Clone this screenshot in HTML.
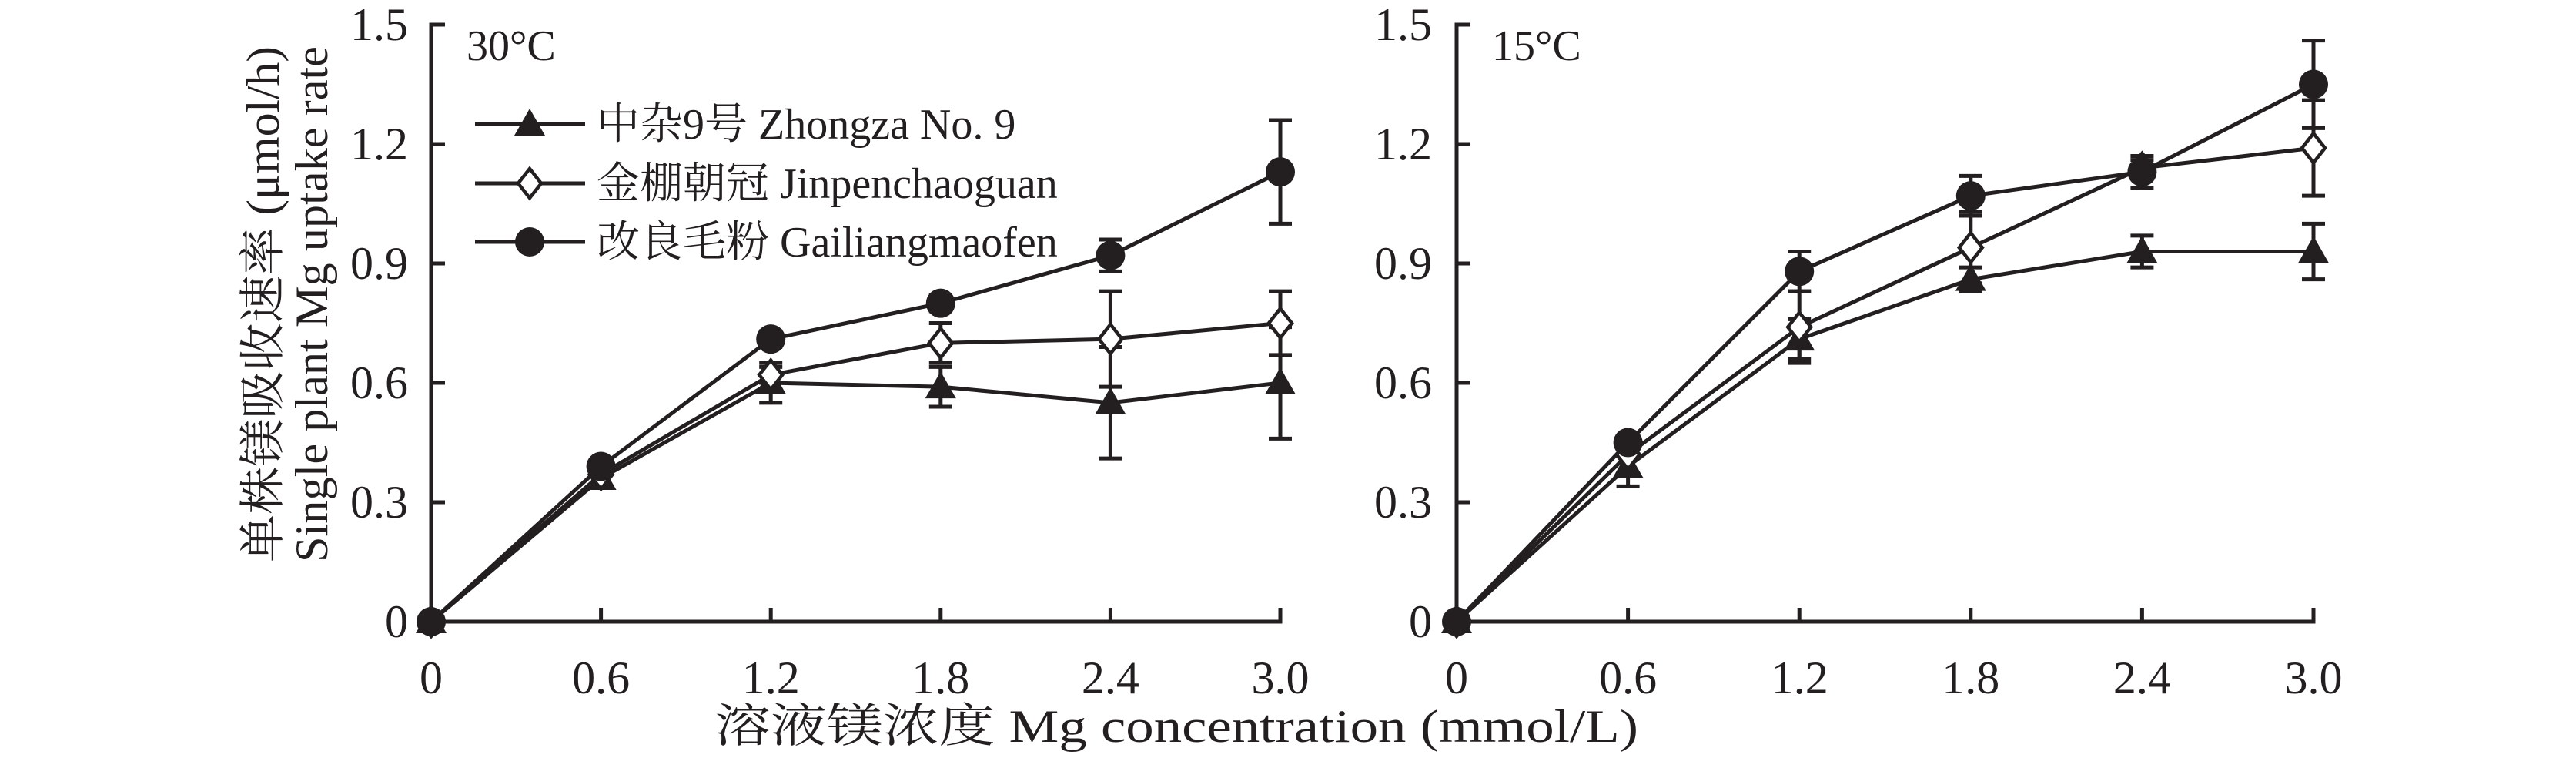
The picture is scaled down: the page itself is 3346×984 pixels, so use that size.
<!DOCTYPE html>
<html><head><meta charset="utf-8"><style>
html,body{margin:0;padding:0;background:#fff;}
svg{display:block;}
text{font-family:"Liberation Serif","Noto Serif CJK SC",serif;fill:#231f20;}
</style></head><body>
<svg id="chart" width="3346" height="984" viewBox="0 0 3346 984" xmlns="http://www.w3.org/2000/svg">
<g id="root"></g>
</svg>
<script>
const categories = [0, 0.6, 1.2, 1.8, 2.4, 3.0];
const xTickLabels = ["0", "0.6", "1.2", "1.8", "2.4", "3.0"];
const yTicks = [0, 0.3, 0.6, 0.9, 1.2, 1.5];
const yTickLabels = ["0", "0.3", "0.6", "0.9", "1.2", "1.5"];
const seriesNames = ["中杂9号 Zhongza No. 9", "金棚朝冠 Jinpenchaoguan", "改良毛粉 Gailiangmaofen"];
const seriesMarkers = ["triangle", "diamond", "circle"];
const zhongza30 = [0, 0.36, 0.60, 0.59, 0.55, 0.60];
const zhongza30Err = [0, 0.01, 0.05, 0.05, 0.14, 0.14];
const jinpen30 = [0, 0.37, 0.62, 0.70, 0.71, 0.75];
const jinpen30Err = [0, 0.01, 0.02, 0.05, 0.12, 0.08];
const gailiang30 = [0, 0.39, 0.71, 0.80, 0.92, 1.13];
const gailiang30Err = [0, 0.01, 0.02, 0.02, 0.04, 0.13];
const zhongza15 = [0, 0.39, 0.71, 0.86, 0.93, 0.93];
const zhongza15Err = [0, 0.05, 0.05, 0.03, 0.04, 0.07];
const jinpen15 = [0, 0.42, 0.74, 0.94, 1.14, 1.19];
const jinpen15Err = [0, 0.01, 0.09, 0.09, 0.02, 0.12];
const gailiang15 = [0, 0.45, 0.88, 1.07, 1.13, 1.35];
const gailiang15Err = [0, 0.01, 0.05, 0.05, 0.04, 0.11];

const NS = "http://www.w3.org/2000/svg";
const root = document.getElementById("root");
function mk(tag, attrs, parent, txt) {
  const e = document.createElementNS(NS, tag);
  for (const k in attrs) e.setAttribute(k, attrs[k]);
  if (txt !== undefined) e.textContent = txt;
  (parent || root).appendChild(e);
  return e;
}
const Y0 = 807, Y15 = 32;
function yScale(v) { return Y0 - (v / 1.5) * (Y0 - Y15); }
function drawMarker(g, type, x, y) {
  let m;
  if (type === "triangle") {
    m = mk("polygon", {points: `${x},${y-20} ${x-20},${y+15} ${x+20},${y+15}`, fill: "#231f20"}, g);
  } else if (type === "diamond") {
    m = mk("polygon", {points: `${x},${y-19} ${x+15},${y} ${x},${y+19} ${x-15},${y}`, fill: "#fff", stroke: "#231f20", "stroke-width": 4.5}, g);
  } else {
    m = mk("ellipse", {cx: x, cy: y, rx: 19, ry: 19, fill: "#231f20"}, g);
  }
  return m;
}
function panel(name, axisX, step, labelRight, tempLabel, series) {
  const xScale = v => axisX + (v / 0.6) * step;
  const g = mk("g", {});
  
  
  const ax = mk("path", {d: `M${axisX+18},${Y15} H${axisX} V${Y0} H${xScale(3.0)} V${Y0-18}`, fill: "none", stroke: "#231f20", "stroke-width": 5}, g);
  
  
  yTicks.forEach((t, i) => {
    const y = yScale(t);
    if (i > 0 && i < yTicks.length - 1) mk("line", {x1: axisX, x2: axisX + 18, y1: y, y2: y, stroke: "#231f20", "stroke-width": 5}, g);
    const lb = mk("text", {x: labelRight, y: y + 20, "font-size": 60, "text-anchor": "end"}, g, yTickLabels[i]);
    
    
  });
  categories.forEach((c, i) => {
    const x = xScale(c);
    if (i > 0 && i < categories.length - 1) mk("line", {x1: x, x2: x, y1: Y0, y2: Y0 - 18, stroke: "#231f20", "stroke-width": 5}, g);
    const lb = mk("text", {x: x, y: 900, "font-size": 60, "text-anchor": "middle"}, g, xTickLabels[i]);
    
    
  });
  const tl = mk("text", {x: axisX + 46, y: 78, "font-size": 56}, g, tempLabel);
  
  
  series.forEach((s, si) => {
    const sg = mk("g", {}, g);
    
    
    const pts = categories.map((c, i) => `${xScale(c)},${yScale(s.vals[i])}`).join(" ");
    mk("polyline", {points: pts, fill: "none", stroke: "#231f20", "stroke-width": 5}, sg);
    categories.forEach((c, i) => {
      const e = s.err[i];
      if (e > 0.015) {
        const x = xScale(c), yt = yScale(s.vals[i] + e), yb = yScale(s.vals[i] - e);
        const eb = mk("path", {d: `M${x},${yt} V${yb} M${x-15},${yt} H${x+15} M${x-15},${yb} H${x+15}`, stroke: "#231f20", "stroke-width": 5, fill: "none"}, sg);
        
        
      }
    });
    categories.forEach((c, i) => {
      const m = drawMarker(sg, seriesMarkers[si], xScale(c), yScale(s.vals[i]));
      
      
    });
  });
}
panel("panel-30c", 560, 220.6, 530, "30°C", [
  {vals: zhongza30, err: zhongza30Err},
  {vals: jinpen30, err: jinpen30Err},
  {vals: gailiang30, err: gailiang30Err}
]);
panel("panel-15c", 1892, 222.6, 1860, "15°C", [
  {vals: zhongza15, err: zhongza15Err},
  {vals: jinpen15, err: jinpen15Err},
  {vals: gailiang15, err: gailiang15Err}
]);
const leg = mk("g", {});


const legY = [161, 238, 314];
seriesNames.forEach((n, i) => {
  const eg = mk("g", {}, leg);
  
  
  mk("line", {x1: 617, x2: 760, y1: legY[i], y2: legY[i], stroke: "#231f20", "stroke-width": 5}, eg);
  drawMarker(eg, seriesMarkers[i], 688, legY[i]);
  mk("text", {x: 775, y: legY[i] + 19, "font-size": 56}, eg, n);
});
const yt = mk("text", {transform: "translate(362,395) rotate(-90)", "font-size": 60, "text-anchor": "middle", textLength: 670, lengthAdjust: "spacingAndGlyphs"}, root, "单株镁吸收速率 (μmol/h)");


const yt2 = mk("text", {transform: "translate(425,395) rotate(-90)", "font-size": 60, "text-anchor": "middle", textLength: 670, lengthAdjust: "spacingAndGlyphs"}, root, "Single plant Mg uptake rate");


const xt = mk("text", {x: 1528, y: 963, "font-size": 60, "text-anchor": "middle", textLength: 1200, lengthAdjust: "spacingAndGlyphs"}, root, "溶液镁浓度 Mg concentration (mmol/L)");


</script>
</body></html>
